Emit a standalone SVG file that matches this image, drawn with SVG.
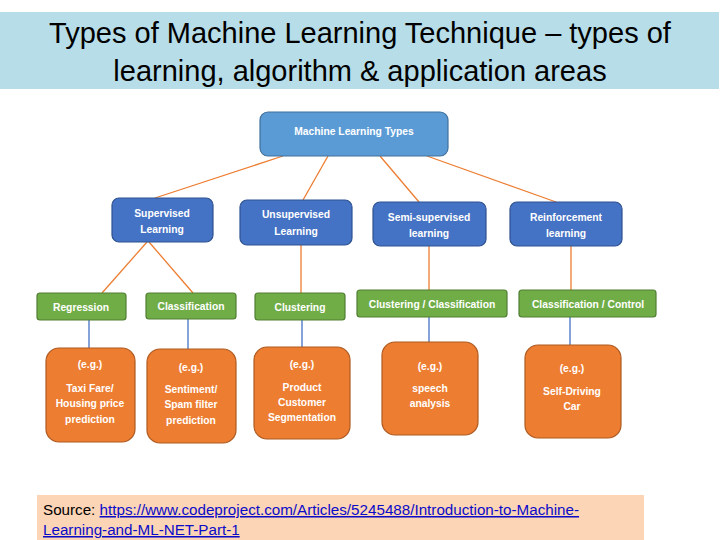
<svg xmlns="http://www.w3.org/2000/svg" width="720" height="540" viewBox="0 0 720 540">
<style>
.title{font-family:"Liberation Sans",Arial,sans-serif;font-size:29px;fill:#000;text-anchor:middle}
.lbl{font-family:"Liberation Sans",Arial,sans-serif;font-size:10.3px;font-weight:bold;fill:#fff;text-anchor:middle}
.top{fill:#5b9bd5;stroke:#41719c;stroke-width:1.2}
.blue{fill:#4472c4;stroke:#2f528f;stroke-width:1.2}
.green{fill:#70ad47;stroke:#507e32;stroke-width:1.2}
.orange{fill:#ed7d31;stroke:#ae5a21;stroke-width:1.2}
.oc{stroke:#ed7d31;stroke-width:1.3;fill:none}
.bc{stroke:#4472c4;stroke-width:1.3;fill:none}
.src{font-family:"Liberation Sans",Arial,sans-serif;font-size:15.2px;fill:#000}
.link{fill:#0b0bc8;text-decoration:underline}
</style>
<rect width="720" height="540" fill="#fff"/>
<g id="title">
<rect x="0" y="12" width="719" height="77" fill="#b7dde8"/>
<text class="title" x="360" y="43">Types of Machine Learning Technique – types of</text>
<text class="title" x="360" y="81">learning, algorithm &amp; application areas</text>
</g>
<g id="connectors">
<line class="oc" x1="283" y1="156" x2="155" y2="198"/>
<line class="oc" x1="328" y1="156" x2="303" y2="200"/>
<line class="oc" x1="380" y1="156" x2="419" y2="202"/>
<line class="oc" x1="427" y1="156" x2="556" y2="202"/>
<line class="oc" x1="147" y1="242" x2="102" y2="293"/>
<line class="oc" x1="149" y1="242" x2="193" y2="293"/>
<line class="oc" x1="301" y1="245" x2="301" y2="293"/>
<line class="oc" x1="429" y1="246" x2="429" y2="290"/>
<line class="oc" x1="571" y1="246" x2="571" y2="290"/>
<line class="bc" x1="89" y1="320" x2="89" y2="348"/>
<line class="bc" x1="188" y1="319" x2="188" y2="349"/>
<line class="bc" x1="302" y1="320" x2="302" y2="347"/>
<line class="bc" x1="429" y1="317" x2="429" y2="342"/>
<line class="bc" x1="570" y1="317" x2="570" y2="345"/>
</g>
<g id="ml-types">
<rect class="top" x="260" y="112" width="188" height="44" rx="8"/>
<text class="lbl" x="354" y="135">Machine Learning Types</text>
</g>
<g id="supervised">
<rect class="blue" x="112" y="198" width="101" height="44" rx="7"/>
<text class="lbl" x="162" y="217">Supervised</text>
<text class="lbl" x="162" y="233">Learning</text>
</g>
<g id="unsupervised">
<rect class="blue" x="240" y="200" width="112" height="45" rx="7"/>
<text class="lbl" x="296" y="218">Unsupervised</text>
<text class="lbl" x="296" y="235">Learning</text>
</g>
<g id="semi-supervised">
<rect class="blue" x="373" y="202" width="113" height="44" rx="7"/>
<text class="lbl" x="429" y="221">Semi-supervised</text>
<text class="lbl" x="429" y="237">learning</text>
</g>
<g id="reinforcement">
<rect class="blue" x="510" y="202" width="112" height="44" rx="7"/>
<text class="lbl" x="566" y="221">Reinforcement</text>
<text class="lbl" x="566" y="237">learning</text>
</g>
<g id="regression">
<rect class="green" x="37" y="293" width="89" height="27" rx="3"/>
<text class="lbl" x="81" y="311">Regression</text>
</g>
<g id="classification">
<rect class="green" x="146" y="293" width="90" height="26" rx="3"/>
<text class="lbl" x="191" y="310">Classification</text>
</g>
<g id="clustering">
<rect class="green" x="255" y="293" width="90" height="27" rx="3"/>
<text class="lbl" x="300" y="311">Clustering</text>
</g>
<g id="clustering-classification">
<rect class="green" x="357" y="290" width="150" height="27" rx="3"/>
<text class="lbl" x="432" y="308">Clustering / Classification</text>
</g>
<g id="classification-control">
<rect class="green" x="519" y="290" width="137" height="27" rx="3"/>
<text class="lbl" x="588" y="308">Classification / Control</text>
</g>
<g id="ex-regression">
<rect class="orange" x="46" y="348" width="89" height="94" rx="13"/>
<text class="lbl" x="90" y="368">(e.g.)</text>
<text class="lbl" x="90" y="392">Taxi Fare/</text>
<text class="lbl" x="90" y="407">Housing price</text>
<text class="lbl" x="90" y="423">prediction</text>
</g>
<g id="ex-classification">
<rect class="orange" x="147" y="349" width="89" height="94" rx="13"/>
<text class="lbl" x="191" y="371">(e.g.)</text>
<text class="lbl" x="191" y="393">Sentiment/</text>
<text class="lbl" x="191" y="408">Spam filter</text>
<text class="lbl" x="191" y="424">prediction</text>
</g>
<g id="ex-clustering">
<rect class="orange" x="254" y="347" width="96" height="92" rx="13"/>
<text class="lbl" x="302" y="368">(e.g.)</text>
<text class="lbl" x="302" y="391">Product</text>
<text class="lbl" x="302" y="406">Customer</text>
<text class="lbl" x="302" y="421">Segmentation</text>
</g>
<g id="ex-semi">
<rect class="orange" x="382" y="342" width="96" height="93" rx="13"/>
<text class="lbl" x="430" y="370">(e.g.)</text>
<text class="lbl" x="430" y="392">speech</text>
<text class="lbl" x="430" y="407">analysis</text>
</g>
<g id="ex-reinforcement">
<rect class="orange" x="525" y="345" width="96" height="93" rx="13"/>
<text class="lbl" x="572" y="372">(e.g.)</text>
<text class="lbl" x="572" y="395">Self-Driving</text>
<text class="lbl" x="572" y="410">Car</text>
</g>
<g id="source">
<rect x="37" y="495" width="607" height="45" fill="#fbd5b5"/>
<text class="src" x="43" y="515">Source: <tspan class="link">https://www.codeproject.com/Articles/5245488/Introduction-to-Machine-</tspan></text>
<text class="src" x="43" y="535"><tspan class="link">Learning-and-ML-NET-Part-1</tspan></text>
</g>
</svg>
